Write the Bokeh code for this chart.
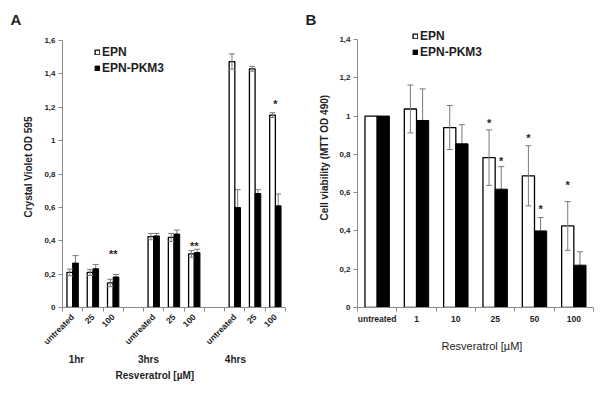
import math
import numpy as np
from bokeh.plotting import figure
from bokeh.layouts import row
from bokeh.models import (ColumnDataSource, FixedTicker, Whisker, TeeHead, Title,
                          Legend, LegendItem, Range1d, LinearAxis)
from bokeh.embed import file_html
from bokeh.resources import INLINE
from bokeh.core.properties import value

FONT = "Liberation Sans"
TEXT = "#1e1e1e"
AXIS = "#8a8a8a"
ERR = "#7a7a7a"

# ---------------- Panel A data ----------------
a_groups = ["1hr", "3hrs", "4hrs"]
a_doses = ["untreated", "25", "100"]
a_epn = [0.21, 0.21, 0.147, 0.425, 0.42, 0.321, 1.474, 1.43, 1.153]
a_epn_err = [0.02, 0.018, 0.022, 0.019, 0.024, 0.02, 0.046, 0.014, 0.014]
a_pkm = [0.266, 0.232, 0.183, 0.429, 0.44, 0.329, 0.599, 0.683, 0.609]
a_pkm_err = [0.045, 0.026, 0.015, 0.015, 0.024, 0.02, 0.107, 0.023, 0.071]
a_sig = ["", "", "**", "", "", "**", "", "", "*"]
a_sig_y = [0, 0, 0.33, 0, 0, 0.38, 0, 0, 1.232]
a_yticks = [0, 0.2, 0.4, 0.6, 0.8, 1.0, 1.2, 1.4, 1.6]
a_ytick_labels = ["0", "0,2", "0,4", "0,6", "0,8", "1", "1,2", "1,4", "1,6"]

# ---------------- Panel B data ----------------
b_doses = ["untreated", "1", "10", "25", "50", "100"]
b_epn = [1.0, 1.037, 0.94, 0.783, 0.688, 0.426]
b_epn_err = [0.0, 0.125, 0.115, 0.145, 0.157, 0.127]
b_pkm = [1.0, 0.977, 0.855, 0.618, 0.40, 0.221]
b_pkm_err = [0.0, 0.165, 0.10, 0.118, 0.07, 0.07]
b_sig_epn = ["", "", "", "*", "*", "*"]
b_sig_epn_y = [0, 0, 0, 0.976, 0.896, 0.649]
b_sig_pkm = ["", "", "", "*", "*", ""]
b_sig_pkm_y = [0, 0, 0, 0.775, 0.527, 0]
b_yticks = [0, 0.2, 0.4, 0.6, 0.8, 1.0, 1.2, 1.4]
b_ytick_labels = ["0", "0,2", "0,4", "0,6", "0,8", "1", "1,2", "1,4"]

TOP, BOTTOM = 27, 93  # shared frame borders (frames are aligned in the row)
FRAME_H = 400 - TOP - BOTTOM


def make_fig(width, xmax, y_end, left, right):
    p = figure(width=width, height=400, x_range=Range1d(0, xmax), y_range=Range1d(0, y_end),
               output_backend="svg", toolbar_location=None,
               min_border_left=left, min_border_right=right,
               min_border_top=TOP, min_border_bottom=BOTTOM)
    p.xgrid.visible = False
    p.ygrid.visible = False
    p.outline_line_color = None
    for ax in (p.xaxis[0], p.yaxis[0]):
        ax.axis_line_color = AXIS
        ax.axis_line_width = 1
        ax.major_label_text_font = FONT
        ax.major_label_text_font_style = "bold"
        ax.major_label_text_color = TEXT
    return p


def style_y(p, ticks, labels):
    ax = p.yaxis[0]
    ax.ticker = FixedTicker(ticks=ticks, minor_ticks=[])
    ax.major_label_overrides = dict(zip(ticks, labels))
    ax.bounds = (ticks[0], ticks[-1])
    ax.major_tick_out = 4
    ax.major_tick_in = 0
    ax.major_tick_line_color = AXIS
    ax.minor_tick_line_color = None
    ax.major_label_text_font_size = "8px"
    ax.major_label_standoff = 3


def style_x(p, centers, labels, n_bounds):
    ax = p.xaxis[0]
    ax.ticker = FixedTicker(ticks=list(centers), minor_ticks=list(range(n_bounds + 1)))
    ax.major_label_overrides = dict(zip([float(c) for c in centers], labels))
    ax.major_tick_line_color = None
    ax.major_tick_out = 4
    ax.major_tick_in = 0
    ax.minor_tick_out = 4
    ax.minor_tick_in = 0
    ax.minor_tick_line_color = AXIS
    ax.major_label_text_font_size = "8.5px"


def add_bars(p, xc, epn, epn_err, pkm, pkm_err, bw, legend_loc):
    xc = np.asarray(xc, dtype=float)
    xw = xc - bw / 2
    xb = xc + bw / 2
    epn = np.asarray(epn)
    pkm = np.asarray(pkm)
    ew = np.asarray(epn_err)
    eb = np.asarray(pkm_err)
    mb = eb > 0
    p.add_layout(Whisker(source=ColumnDataSource(dict(x=xb[mb], u=(pkm + eb)[mb], l=(pkm - eb)[mb])),
                         base="x", upper="u", lower="l", line_color=ERR, line_width=1,
                         level="underlay",
                         upper_head=TeeHead(size=6, line_color=ERR, line_width=1),
                         lower_head=TeeHead(size=6, line_color=ERR, line_width=1)))
    rw = p.vbar(x=xw, top=epn, bottom=0, width=bw, fill_color="white",
                line_color="black", line_width=1.3)
    rb = p.vbar(x=xb, top=pkm, bottom=0, width=bw, fill_color="black",
                line_color="black", line_width=1)
    mw = ew > 0
    p.add_layout(Whisker(source=ColumnDataSource(dict(x=xw[mw], u=(epn + ew)[mw], l=(epn - ew)[mw])),
                         base="x", upper="u", lower="l", line_color=ERR, line_width=1,
                         level="annotation",
                         upper_head=TeeHead(size=6, line_color=ERR, line_width=1),
                         lower_head=TeeHead(size=6, line_color=ERR, line_width=1)))
    leg = Legend(items=[LegendItem(label="EPN", renderers=[rw]),
                        LegendItem(label="EPN-PKM3", renderers=[rb])],
                 location=legend_loc, padding=0, margin=0, spacing=2,
                 glyph_width=6, glyph_height=6, label_height=14, label_standoff=2,
                 label_text_font=FONT, label_text_font_size="12px",
                 label_text_font_style="bold", label_text_color=TEXT,
                 border_line_color=None, background_fill_alpha=0)
    p.add_layout(leg, "center")
    return xw, xb


def add_stars(p, xs, ys, marks):
    sel = [i for i, m in enumerate(marks) if m]
    p.text(x=[xs[i] for i in sel], y=[ys[i] for i in sel], text=[marks[i] for i in sel],
           text_font=value(FONT), text_font_size="11px", text_font_style="bold",
           text_align="center", text_baseline="middle", text_color=TEXT, y_offset=2)


def set_panel_letter(p, letter, offset, standoff):
    t = p.title
    t.text = letter
    t.align = "left"
    t.offset = offset
    t.standoff = standoff
    t.text_font = FONT
    t.text_font_size = "15px"
    t.text_font_style = "bold"
    t.text_color = TEXT


def side_title(p, text, side, offset, standoff, size, bold=True):
    p.add_layout(Title(text=text, align="left", offset=offset, standoff=standoff,
                       text_font=FONT, text_font_size=size,
                       text_font_style="bold" if bold else "normal",
                       text_color=TEXT), side)


# ---------------- Panel A ----------------
a_slots = np.array([g * 4 + d for g in range(len(a_groups)) for d in range(len(a_doses))]) + 0.5
a_group_label_x = [0.69, 4.24, 8.53]
pa = make_fig(300, 11, 1.6 * FRAME_H / 267, 62, 15)
style_y(pa, a_yticks, a_ytick_labels)
style_x(pa, a_slots, a_doses * len(a_groups), 11)
pa.xaxis[0].major_label_orientation = math.pi / 4
pa.xaxis[0].major_label_standoff = 4
gax = LinearAxis(ticker=FixedTicker(ticks=a_group_label_x, minor_ticks=[]),
                 major_label_overrides=dict(zip(a_group_label_x, a_groups)),
                 axis_line_color=None, major_tick_line_color=None, minor_tick_line_color=None,
                 major_tick_out=0, major_tick_in=0, minor_tick_out=0, minor_tick_in=0,
                 major_label_standoff=1, major_label_text_font=FONT,
                 major_label_text_font_size="10px", major_label_text_font_style="bold",
                 major_label_text_color=TEXT)
pa.add_layout(gax, "below")
add_bars(pa, a_slots, a_epn, a_epn_err, a_pkm, a_pkm_err, 0.28, (32, 232))
add_stars(pa, list(a_slots), a_sig_y, a_sig)
side_title(pa, "Resveratrol [µM]", "below", 53, 0, "10px")
side_title(pa, "Crystal Violet OD 595", "left", 90, 16, "10px")
set_panel_letter(pa, "A", -52, 0)

# ---------------- Panel B ----------------
b_slots = np.arange(len(b_doses)) + 0.5
pb = make_fig(300, 6, 1.4 * FRAME_H / 268, 57, 7)
style_y(pb, b_yticks, b_ytick_labels)
style_x(pb, b_slots, b_doses, 6)
pb.xaxis[0].major_label_standoff = 2
bxw, bxb = add_bars(pb, b_slots, b_epn, b_epn_err, b_pkm, b_pkm_err, 0.31, (55, 248))
add_stars(pb, list(bxw), b_sig_epn_y, b_sig_epn)
add_stars(pb, list(bxb), b_sig_pkm_y, b_sig_pkm)
side_title(pb, "Resveratrol [µM]", "below", 84, 22, "11px", bold=False)
side_title(pb, "Cell viability (MTT OD 490)", "left", 87, 13, "10px")
set_panel_letter(pb, "B", -52, 0)

layout = row(pa, pb)
open("out.html", "w").write(file_html(layout, INLINE))
